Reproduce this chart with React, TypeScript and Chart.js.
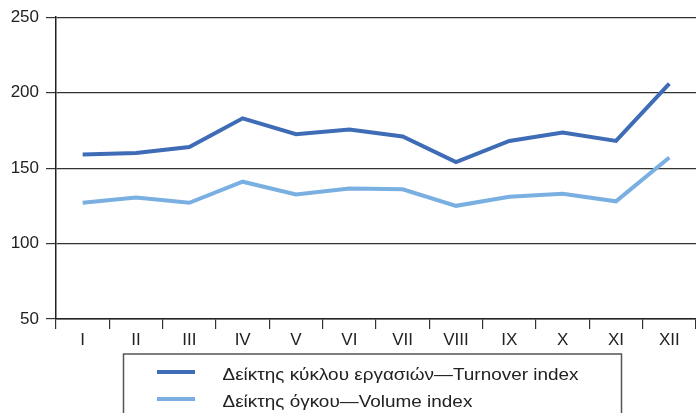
import React, { useEffect, useRef } from "react";
import { Chart, registerables } from "chart.js";

Chart.register(...registerables);

const categories = ["I", "II", "III", "IV", "V", "VI", "VII", "VIII", "IX", "X", "XI", "XII"];
const turnoverIndex = [159, 160, 164, 183, 172.5, 175.5, 171, 154, 168, 173.5, 168, 206];
const volumeIndex = [127, 130.5, 127, 141, 132.5, 136.5, 136, 125, 131, 133, 128, 157];
const seriesNames = [
  "Δείκτης κύκλου εργασιών—Turnover index",
  "Δείκτης όγκου—Volume index",
];
const seriesColors = ["#3f6cb6", "#7aafe1"];
const yMin = 50;
const yMax = 250;
const yStep = 50;

const FONT = "'Liberation Sans', Arial, Helvetica, sans-serif";

export default function App() {
  const ref = useRef<HTMLCanvasElement>(null);

  useEffect(() => {
    if (!ref.current) return;
    const legendPlugin = {
      id: "boxLegend",
      afterDraw(chart: any) {
        const ctx = chart.ctx as CanvasRenderingContext2D;
        ctx.save();
        ctx.strokeStyle = "#555";
        ctx.lineWidth = 1.5;
        ctx.strokeRect(123.5, 354, 498, 80);
        ctx.font = `16.5px ${FONT}`;
        ctx.textBaseline = "middle";
        ctx.fillStyle = "#222";
        const w0 = ctx.measureText(seriesNames[0]).width;
        const sx = 356 / w0;
        const rows = [372, 399];
        seriesNames.forEach((name, i) => {
          ctx.strokeStyle = seriesColors[i];
          ctx.lineWidth = 4;
          ctx.beginPath();
          ctx.moveTo(157, rows[i]);
          ctx.lineTo(195, rows[i]);
          ctx.stroke();
          ctx.save();
          ctx.translate(222.5, rows[i] + 3);
          ctx.scale(sx, 1);
          ctx.fillText(name, 0, 0);
          ctx.restore();
        });
        ctx.restore();
      },
    };

    const chart = new Chart(ref.current, {
      type: "line",
      data: {
        labels: categories,
        datasets: [
          {
            label: seriesNames[0],
            data: turnoverIndex,
            borderColor: seriesColors[0],
            backgroundColor: seriesColors[0],
            borderWidth: 4,
            pointRadius: 0,
            tension: 0,
          },
          {
            label: seriesNames[1],
            data: volumeIndex,
            borderColor: seriesColors[1],
            backgroundColor: seriesColors[1],
            borderWidth: 4,
            pointRadius: 0,
            tension: 0,
          },
        ],
      },
      options: {
        responsive: false,
        animation: false,
        layout: { padding: { top: 16, left: 0, right: 0, bottom: 0 } },
        plugins: {
          legend: { display: false },
          tooltip: { enabled: false },
        },
        scales: {
          x: {
            offset: true,
            grid: {
              offset: true,
              drawOnChartArea: false,
              drawTicks: true,
              tickLength: 10,
              color: "#333",
              lineWidth: 1.2,
            },
            border: { display: true, color: "#222", width: 1.5 },
            ticks: {
              color: "#222",
              font: { family: FONT, size: 17 },
              padding: 1,
              maxRotation: 0,
              autoSkip: false,
            },
            afterFit(scale: any) {
              scale.height = 94;
            },
          },
          y: {
            min: yMin,
            max: yMax,
            ticks: {
              stepSize: yStep,
              color: "#222",
              font: { family: FONT, size: 17 },
              padding: 7,
            },
            grid: {
              color: "#333",
              lineWidth: 1.2,
              tickLength: 10,
            },
            border: { display: true, color: "#222", width: 1.5 },
            afterFit(scale: any) {
              scale.width = 56;
            },
          },
        },
      },
      plugins: [legendPlugin],
    });
    return () => chart.destroy();
  }, []);

  return (
    <div
      style={{
        position: "fixed",
        left: 0,
        top: 0,
        width: 696,
        height: 413,
        overflow: "hidden",
        background: "#fff",
      }}
    >
      <canvas ref={ref} width={696} height={413} style={{ display: "block", width: 696, height: 413 }} />
    </div>
  );
}
